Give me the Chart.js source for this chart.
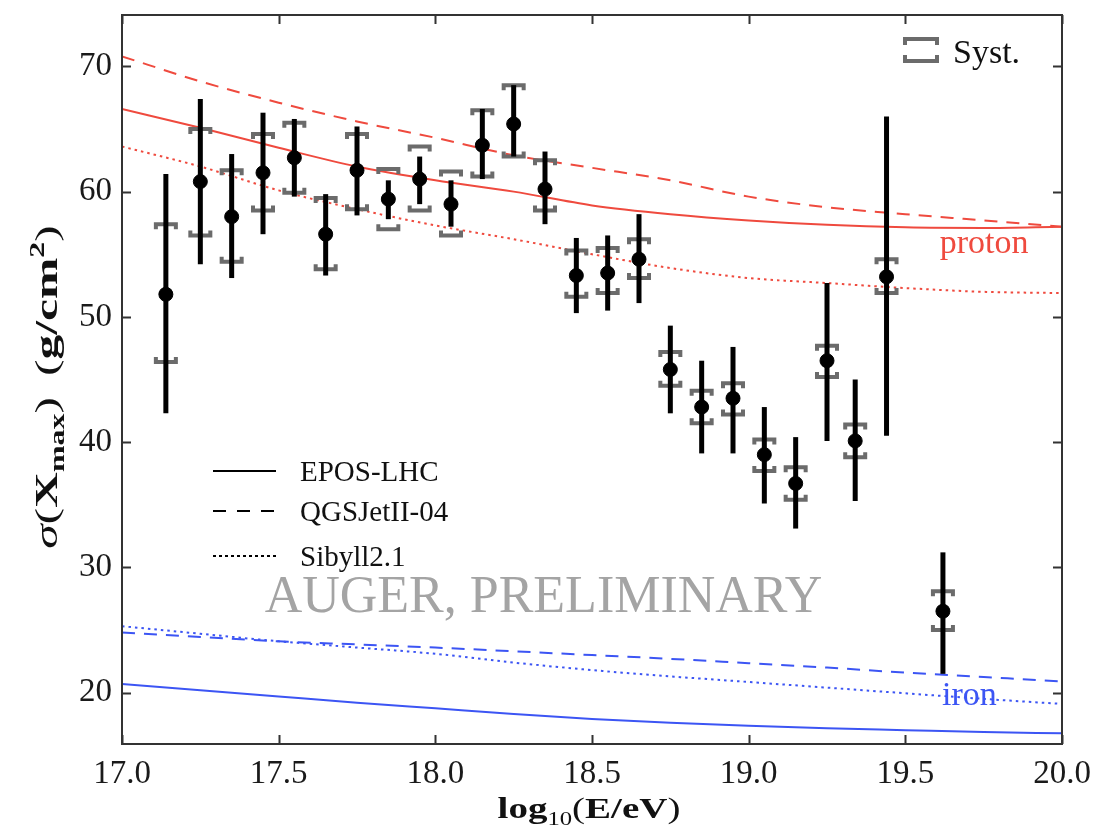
<!DOCTYPE html>
<html>
<head>
<meta charset="utf-8">
<script src="https://cdn.jsdelivr.net/npm/chart.js@4.4.0/dist/chart.umd.min.js"></script>
<style>
  html, body { margin: 0; padding: 0; background: #fff; }
</style>
</head>
<body>
<canvas id="myChart" width="1115" height="834"></canvas>
<script>
// Datos medidos (log10(E/eV), sigma(Xmax))
const energies = [17.14, 17.25, 17.35, 17.45, 17.55, 17.65, 17.75, 17.85, 17.95, 18.05, 18.15, 18.25, 18.35,
                  18.45, 18.55, 18.65, 18.75, 18.85, 18.95, 19.05, 19.15, 19.25, 19.34, 19.44, 19.62];
const sigmaValues = [51.8, 60.8, 58.0, 61.5, 62.7, 56.6, 61.7, 59.4, 61.0, 59.0, 63.7, 65.4, 60.2,
                     53.3, 53.5, 54.6, 45.8, 42.8, 43.5, 39.0, 36.7, 46.5, 40.1, 53.2, 26.5];
const statLow  = [42.3, 54.2, 53.1, 56.6, 59.6, 53.3, 58.1, 57.8, 59.0, 57.2, 61.0, 62.8, 57.4,
                  50.3, 50.5, 51.1, 42.3, 39.1, 39.1, 35.1, 33.1, 40.1, 35.3, 40.5, 21.5];
const statHigh = [61.4, 67.4, 63.0, 66.3, 65.8, 59.8, 65.2, 60.9, 62.8, 60.9, 66.6, 68.5, 63.2,
                  56.3, 56.5, 58.2, 49.3, 46.5, 47.6, 42.8, 40.4, 52.7, 45.0, 66.0, 31.2];
const systLow  = [46.4, 56.5, 54.4, 58.5, 59.9, 53.8, 58.6, 57.0, 58.5, 56.5, 61.2, 62.8, 58.5,
                  51.6, 51.9, 53.1, 44.5, 41.5, 42.2, 37.7, 35.4, 45.2, 38.8, 51.9, 25.0];
const systHigh = [57.4, 65.0, 61.7, 64.6, 65.5, 59.5, 64.6, 61.8, 63.6, 61.6, 66.5, 68.5, 62.5,
                  55.3, 55.5, 56.2, 47.2, 44.1, 44.7, 40.2, 38.0, 47.7, 41.4, 54.6, 28.1];

// Modelos (proton / iron)
const modelEnergy  = [17.0, 17.25, 17.5, 17.75, 18.0, 18.25, 18.5, 18.75, 19.0, 19.25, 19.5, 19.75, 20.0];
const eposProton   = [66.6, 65.1, 63.5, 62.0, 60.9, 60.0, 58.9, 58.2, 57.7, 57.35, 57.15, 57.1, 57.2];
const qgsProton    = [70.8, 68.8, 67.1, 65.6, 64.3, 62.9, 61.9, 60.9, 59.6, 58.75, 58.2, 57.7, 57.2];
const sibyllProton = [63.6, 62.0, 60.1, 58.6, 57.3, 56.2, 55.0, 53.9, 53.1, 52.7, 52.3, 52.0, 51.9];
const eposIron     = [20.7, 20.2, 19.7, 19.2, 18.75, 18.3, 17.9, 17.6, 17.35, 17.15, 17.0, 16.85, 16.75];
const qgsIron      = [24.8, 24.45, 24.1, 23.85, 23.6, 23.3, 23.0, 22.7, 22.35, 22.0, 21.6, 21.25, 20.9];
const sibyllIron   = [25.3, 24.7, 24.1, 23.6, 23.1, 22.4, 21.8, 21.3, 20.85, 20.4, 19.95, 19.5, 19.1];

const modelNames = ['EPOS-LHC', 'QGSJetII-04', 'Sibyll2.1'];
const xTickMin = 17.0, xTickMax = 20.0;
const yMin = 15.9, yMax = 74.1;

const RED = '#ef4a3e';
const BLUE = '#3c55f4';
const SERIF = '"Liberation Serif", "DejaVu Serif", serif';
const dashStyles = [[], [13, 9], [2.5, 4]];

function toPoints(ys) {
    return modelEnergy.map((x, i) => ({ x: x, y: ys[i] }));
}

function modelDataset(ys, color, style) {
    return {
        data: toPoints(ys),
        showLine: true,
        borderColor: color,
        borderWidth: 2,
        borderDash: dashStyles[style],
        pointRadius: 0,
        cubicInterpolationMode: 'monotone',
        order: 2
    };
}

const models = [
    modelDataset(eposProton, RED, 0),
    modelDataset(qgsProton, RED, 1),
    modelDataset(sibyllProton, RED, 2),
    modelDataset(eposIron, BLUE, 0),
    modelDataset(qgsIron, BLUE, 1),
    modelDataset(sibyllIron, BLUE, 2)
];

const pointsDataset = {
    data: energies.map((x, i) => ({ x: x, y: sigmaValues[i] })),
    backgroundColor: '#000',
    borderColor: '#000',
    pointRadius: 7,
    pointHoverRadius: 7,
    order: 1
};

// Corchete sistemático: dir = 1 arriba (patas hacia abajo), -1 abajo
function bracket(ctx, x, y, dir) {
    const w = 10, leg = 5;
    ctx.beginPath();
    ctx.moveTo(x - w, y + dir * leg);
    ctx.lineTo(x - w, y);
    ctx.lineTo(x + w, y);
    ctx.lineTo(x + w, y + dir * leg);
    ctx.stroke();
}

// Texto con sub/superíndices, centrado en cx; sx = estiramiento horizontal
function drawRich(ctx, parts, cx, baseY, sx) {
    let total = 0;
    parts.forEach(p => { ctx.font = p.f; p.w = ctx.measureText(p.t).width + (p.gap || 0); total += p.w; });
    ctx.save();
    ctx.translate(cx, baseY);
    ctx.scale(sx, 1);
    let x = -total / 2;
    ctx.textAlign = 'left';
    ctx.textBaseline = 'alphabetic';
    parts.forEach(p => {
        ctx.font = p.f;
        ctx.fillText(p.t, x, p.dy || 0);
        x += p.w;
    });
    ctx.restore();
}

const errorBarsPlugin = {
    id: 'errorBars',
    beforeDatasetDraw(chart, args) {
        if (args.index !== models.length) return;
        const ctx = chart.ctx, xs = chart.scales.x, ys = chart.scales.y;
        ctx.save();
        ctx.lineCap = 'butt';
        // sistemáticos
        ctx.strokeStyle = '#6b6b6b';
        ctx.lineWidth = 4;
        energies.forEach((e, i) => {
            const px = xs.getPixelForValue(e);
            bracket(ctx, px, ys.getPixelForValue(systHigh[i]), 1);
            bracket(ctx, px, ys.getPixelForValue(systLow[i]), -1);
        });
        // estadísticos
        ctx.strokeStyle = '#000';
        ctx.lineWidth = 5;
        energies.forEach((e, i) => {
            const px = xs.getPixelForValue(e);
            ctx.beginPath();
            ctx.moveTo(px, ys.getPixelForValue(statHigh[i]));
            ctx.lineTo(px, ys.getPixelForValue(statLow[i]));
            ctx.stroke();
        });
        ctx.restore();
    },
    afterDatasetsDraw(chart) {
        const ctx = chart.ctx, xs = chart.scales.x, ys = chart.scales.y;
        const a = chart.chartArea;
        ctx.save();

        // textos dentro del gráfico
        ctx.textBaseline = 'alphabetic';
        ctx.textAlign = 'center';
        ctx.font = '52px ' + SERIF;
        ctx.fillStyle = '#a4a4a4';
        ctx.fillText('AUGER, PRELIMINARY', xs.getPixelForValue(18.345), ys.getPixelForValue(26.4));
        ctx.textAlign = 'left';
        ctx.font = '34px ' + SERIF;
        ctx.fillStyle = RED;
        ctx.fillText('proton', xs.getPixelForValue(19.61), ys.getPixelForValue(55.1));
        ctx.fillStyle = BLUE;
        ctx.fillText('iron', xs.getPixelForValue(19.617), ys.getPixelForValue(19.0));

        // leyenda de modelos
        ctx.strokeStyle = '#000';
        ctx.fillStyle = '#111';
        ctx.lineWidth = 2;
        ctx.font = '29px ' + SERIF;
        const rows = [471, 511, 556];
        modelNames.forEach((name, i) => {
            ctx.setLineDash(i === 1 ? [13, 11] : i === 2 ? [3, 3] : []);
            ctx.beginPath();
            ctx.moveTo(213, rows[i]);
            ctx.lineTo(276, rows[i]);
            ctx.stroke();
            ctx.setLineDash([]);
            ctx.fillText(name, 300, rows[i] + 10);
        });

        // leyenda Syst.
        ctx.strokeStyle = '#6b6b6b';
        ctx.lineWidth = 4;
        const sx = 921;
        ctx.beginPath();
        ctx.moveTo(sx - 16, 45); ctx.lineTo(sx - 16, 39); ctx.lineTo(sx + 16, 39); ctx.lineTo(sx + 16, 45);
        ctx.moveTo(sx - 16, 55); ctx.lineTo(sx - 16, 61); ctx.lineTo(sx + 16, 61); ctx.lineTo(sx + 16, 55);
        ctx.stroke();
        ctx.fillStyle = '#111';
        ctx.font = '34px ' + SERIF;
        ctx.fillText('Syst.', 953, 63);

        // marco y marcas hacia dentro
        ctx.strokeStyle = '#333';
        ctx.lineWidth = 2;
        ctx.strokeRect(a.left, a.top, a.right - a.left, a.bottom - a.top);
        ctx.beginPath();
        xs.ticks.forEach(t => {
            const px = Math.round(xs.getPixelForValue(t.value)) + 0.5;
            ctx.moveTo(px, a.bottom); ctx.lineTo(px, a.bottom - 9);
            ctx.moveTo(px, a.top); ctx.lineTo(px, a.top + 9);
        });
        ys.ticks.forEach(t => {
            const py = Math.round(ys.getPixelForValue(t.value)) + 0.5;
            ctx.moveTo(a.left, py); ctx.lineTo(a.left + 9, py);
            ctx.moveTo(a.right, py); ctx.lineTo(a.right - 9, py);
        });
        ctx.stroke();
        ctx.restore();
    },
    afterDraw(chart) {
        const ctx = chart.ctx, a = chart.chartArea;
        ctx.save();
        ctx.fillStyle = '#111';
        // título eje x
        drawRich(ctx, [
            { t: 'log', f: 'bold 30px ' + SERIF },
            { t: '10', f: '19px ' + SERIF, dy: 7 },
            { t: '(', f: '30px ' + SERIF },
            { t: 'E/eV', f: 'bold 30px ' + SERIF },
            { t: ')', f: '30px ' + SERIF }
        ], (a.left + a.right) / 2 - 3, 818, 1.3);
        // título eje y
        ctx.translate(57, 387);
        ctx.rotate(-Math.PI / 2);
        drawRich(ctx, [
            { t: 'σ', f: 'italic 31px ' + SERIF },
            { t: '(', f: '31px ' + SERIF },
            { t: 'X', f: 'bold 31px ' + SERIF },
            { t: 'max', f: 'bold 20px ' + SERIF, dy: 7 },
            { t: ')', f: '31px ' + SERIF, gap: 13 },
            { t: '(', f: '31px ' + SERIF },
            { t: 'g/cm', f: 'bold 31px ' + SERIF },
            { t: '2', f: 'bold 20px ' + SERIF, dy: -13 },
            { t: ')', f: '31px ' + SERIF }
        ], 0, 0, 1.6);
        ctx.restore();
    }
};

const tickFont = { family: SERIF, size: 33 };

var ctx = document.getElementById('myChart').getContext('2d');
var myChart = new Chart(ctx, {
    type: 'scatter',
    data: {
        datasets: [...models, pointsDataset]
    },
    options: {
        responsive: false,
        animation: false,
        devicePixelRatio: 1,
        layout: { padding: { top: 15, right: 53, left: 0, bottom: 0 } },
        plugins: {
            legend: { display: false },
            tooltip: { enabled: false }
        },
        scales: {
            x: {
                type: 'linear',
                min: xTickMin,
                max: xTickMax,
                afterFit: s => { s.height = 90; s.paddingLeft = 0; s.paddingRight = 0; },
                grid: { display: false, drawTicks: false },
                border: { display: false },
                ticks: {
                    stepSize: 0.5,
                    includeBounds: false,
                    autoSkip: false,
                    maxRotation: 0,
                    padding: 11,
                    font: tickFont,
                    color: '#1a1a1a',
                    callback: v => v.toFixed(1)
                }
            },
            y: {
                type: 'linear',
                min: yMin,
                max: yMax,
                afterFit: s => { s.width = 122; s.paddingTop = 0; s.paddingBottom = 0; },
                grid: { display: false, drawTicks: false },
                border: { display: false },
                ticks: {
                    stepSize: 10,
                    includeBounds: false,
                    padding: 10,
                    font: tickFont,
                    color: '#1a1a1a',
                    callback: v => String(v)
                }
            }
        }
    },
    plugins: [errorBarsPlugin]
});
</script>
</body>
</html>
